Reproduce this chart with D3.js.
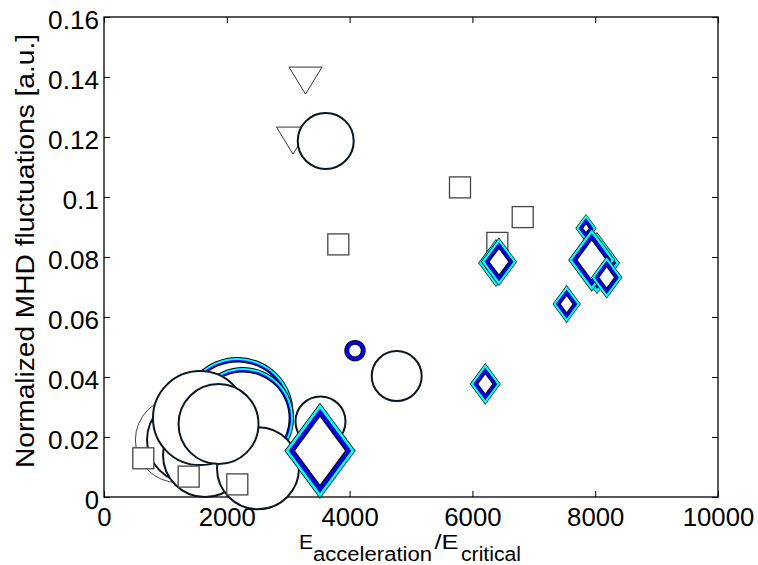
<!DOCTYPE html>
<html>
<head>
<meta charset="utf-8">
<script src="https://d3js.org/d3.v7.min.js"></script>
<style>
  body { margin: 0; background: #fff; }
  svg { display: block; font-family: "Liberation Sans", Arial, sans-serif; }
</style>
</head>
<body>
<div id="chartId"></div>
<script>
/*
Data
*/
const x_ticks = [0, 2000, 4000, 6000, 8000, 10000];
const y_ticks = [0, 0.02, 0.04, 0.06, 0.08, 0.1, 0.12, 0.14, 0.16];
const y_tick_labels = ["0", "0.02", "0.04", "0.06", "0.08", "0.1", "0.12", "0.14", "0.16"];

// open triangles (pointing down)
const tri_x = [3282, 3078];
const tri_y = [0.1388, 0.1188];

// circles with a cyan / blue edge
const ring_x = [2174, 2264];
const ring_y = [0.0280, 0.0263];
const ring_size = [56, 51];

// small blue circle
const blue_x = [4088];
const blue_y = [0.0488];
const blue_size = [10.7];

// open circles
const circ_x = [1205, 1401, 1645, 2508, 1563, 1865, 3526, 4767, 3611];
const circ_y = [0.0190, 0.0190, 0.0140, 0.0096, 0.0263, 0.0243, 0.0252, 0.0403, 0.1187];
const circ_size = [43, 44, 43, 42, 48, 41, 26, 26, 29];

// open squares
const sq_x = [640, 1379, 2171, 3816, 5798, 6819, 6406];
const sq_y = [0.0129, 0.0068, 0.0042, 0.0842, 0.1032, 0.0933, 0.0847];

// diamonds with cyan / blue edge
const dia_x = [3518, 6384, 6433, 7850, 8029, 7943, 8187, 7535, 6210];
const dia_y = [0.0154, 0.0780, 0.0784, 0.0896, 0.0780, 0.0790, 0.0732, 0.0643, 0.0377];
const dia_size = [48, 24, 24.3, 14.3, 31, 31.7, 21.2, 19, 20.8];

/*
Layout
*/
const width = 758, height = 565;
const margin = { left: 104, right: 40, top: 17, bottom: 68 };

const svg = d3.select("#chartId").append("svg")
    .attr("width", width)
    .attr("height", height);

svg.append("rect").attr("width", width).attr("height", height).attr("fill", "#fff");

const x = d3.scaleLinear().domain([0, 10000]).range([margin.left, width - margin.right]);
const y = d3.scaleLinear().domain([0, 0.16]).range([height - margin.bottom, margin.top]);

function zip(xs, ys, ss) {
    return xs.map((v, i) => ({ x: v, y: ys[i], s: ss ? ss[i] : null }));
}

/*
Axes (drawn under the markers)
*/
const g_axes = svg.append("g");

g_axes.append("g")
    .attr("transform", `translate(0,${y(0)})`)
    .call(d3.axisBottom(x).tickValues(x_ticks).tickSize(-6).tickSizeOuter(0).tickPadding(11)
        .tickFormat(d3.format("d")));
g_axes.append("g")
    .attr("transform", `translate(0,${y(0.16)})`)
    .call(d3.axisTop(x).tickValues(x_ticks).tickSize(-6).tickSizeOuter(0).tickFormat(""));
g_axes.append("g")
    .attr("class", "yaxis")
    .attr("transform", `translate(${x(0)},0)`)
    .call(d3.axisLeft(y).tickValues(y_ticks).tickSize(-6).tickSizeOuter(0).tickPadding(5)
        .tickFormat((d, i) => y_tick_labels[i]));
g_axes.append("g")
    .attr("transform", `translate(${x(10000)},0)`)
    .call(d3.axisRight(y).tickValues(y_ticks).tickSize(-6).tickSizeOuter(0).tickFormat(""));

g_axes.selectAll(".domain").remove();
g_axes.selectAll(".tick line").attr("stroke", "#000").attr("stroke-width", 1);
g_axes.selectAll(".tick text")
    .attr("fill", "#000")
    .attr("font-size", 25)
    .attr("font-family", "Liberation Sans, Arial, sans-serif")
    .attr("lengthAdjust", "spacingAndGlyphs")
    .attr("textLength", function () {
        const t = this.textContent;
        const dots = (t.match(/\./g) || []).length;
        return (t.length - dots) * 14.3 + dots * 8;
    });
g_axes.select(".yaxis").selectAll(".tick text").attr("dy", "0.45em");

g_axes.append("rect")
    .attr("x", x(0)).attr("y", y(0.16))
    .attr("width", x(10000) - x(0)).attr("height", y(0) - y(0.16))
    .attr("fill", "none").attr("stroke", "#000").attr("stroke-width", 1.3);

/*
Axis titles
*/
svg.append("text")
    .attr("transform", `translate(34,251) rotate(-90)`)
    .attr("text-anchor", "middle")
    .attr("font-size", 25)
    .attr("textLength", 434)
    .attr("lengthAdjust", "spacingAndGlyphs")
    .text("Normalized MHD fluctuations [a.u.]");

// E_acceleration / E_critical as one text with subscript tspans
const x_title = [
    { t: "E", x: 299, y: 548.5, fs: 21, len: null },
    { t: "acceleration", x: 313, y: 561, fs: 20, len: 119 },
    { t: "/E", x: 434.5, y: 548.5, fs: 21, len: 24 },
    { t: "critical", x: 461, y: 561, fs: 20, len: 60 }
];
svg.append("text")
    .selectAll("tspan").data(x_title).enter()
    .append("tspan")
    .attr("x", d => d.x).attr("y", d => d.y)
    .attr("font-size", d => d.fs)
    .attr("textLength", d => d.len)
    .attr("lengthAdjust", "spacingAndGlyphs")
    .text(d => d.t);

/*
Marker helpers
*/
const dia_ratio = 1.35;

function diamond_path(d, inset) {
    const b = d.s, a = d.s / dia_ratio;
    const h = a * b / Math.sqrt(a * a + b * b);
    const k = Math.max(h - inset, 0) / h;
    const cx = x(d.x), cy = y(d.y);
    return `M${cx},${cy - b * k}L${cx + a * k},${cy}L${cx},${cy + b * k}L${cx - a * k},${cy}Z`;
}

// layered edges: [inset, colour]
const dia_layers = [[0, "#000"], [0.09, "#00ffff"], [0.41, "#000"], [0.47, "#0000ff"], [0.85, "#000"], [1, "#fff"]];
const ring_layers = [[0, "#000"], [1, "#00ffff"], [3, "#0000ff"], [4.4, "#000"], [5.4, "#fff"]];
const blue_layers = [[0, "#000"], [0.8, "#0000ff"], [4, "#000"], [4.9, "#fff"]];

/*
Markers, in drawing order
*/
const g_marks = svg.append("g");

// triangles
g_marks.append("g").selectAll("path").data(zip(tri_x, tri_y)).enter()
    .append("path")
    .attr("d", d => {
        const cx = x(d.x), cy = y(d.y);
        return `M${cx - 16.5},${cy - 13.5}L${cx + 16.5},${cy - 13.5}L${cx},${cy + 13.5}Z`;
    })
    .attr("fill", "#fff").attr("stroke", "#333").attr("stroke-width", 1);

// ringed circles
function layered_circles(data, layers) {
    const grp = g_marks.append("g").selectAll("g").data(data).enter().append("g");
    grp.selectAll("circle").data(d => layers.map(l => ({ d: d, inset: l[0], c: l[1] }))).enter()
        .append("circle")
        .attr("cx", o => x(o.d.x)).attr("cy", o => y(o.d.y))
        .attr("r", o => o.d.s - o.inset)
        .attr("fill", o => o.c);
}
layered_circles(zip(ring_x, ring_y, ring_size), ring_layers);
layered_circles(zip(blue_x, blue_y, blue_size), blue_layers);

// open circles
g_marks.append("g").selectAll("circle").data(zip(circ_x, circ_y, circ_size)).enter()
    .append("circle")
    .attr("cx", d => x(d.x)).attr("cy", d => y(d.y))
    .attr("r", (d, i) => d.s - (i == 0 ? 0.4 : 1))
    .attr("fill", "#fff")
    .attr("stroke", "#0c1620")
    .attr("stroke-width", (d, i) => i == 0 ? 0.8 : 2);

// squares
g_marks.append("g").selectAll("rect").data(zip(sq_x, sq_y)).enter()
    .append("rect")
    .attr("x", d => x(d.x) - 10.5).attr("y", d => y(d.y) - 10.5)
    .attr("width", 21).attr("height", 21)
    .attr("fill", "#fff").attr("stroke", "#444").attr("stroke-width", 1.3);

// diamonds
const g_dia = g_marks.append("g").selectAll("g").data(zip(dia_x, dia_y, dia_size)).enter().append("g");
g_dia.selectAll("path").data(d => {
    const band = 5.4 + d.s * 0.065;
    return dia_layers.map(l => ({ d: d, inset: l[0] * band, c: l[1] }));
}).enter()
    .append("path")
    .attr("d", o => diamond_path(o.d, o.inset))
    .attr("fill", o => o.c);
</script>
</body>
</html>
